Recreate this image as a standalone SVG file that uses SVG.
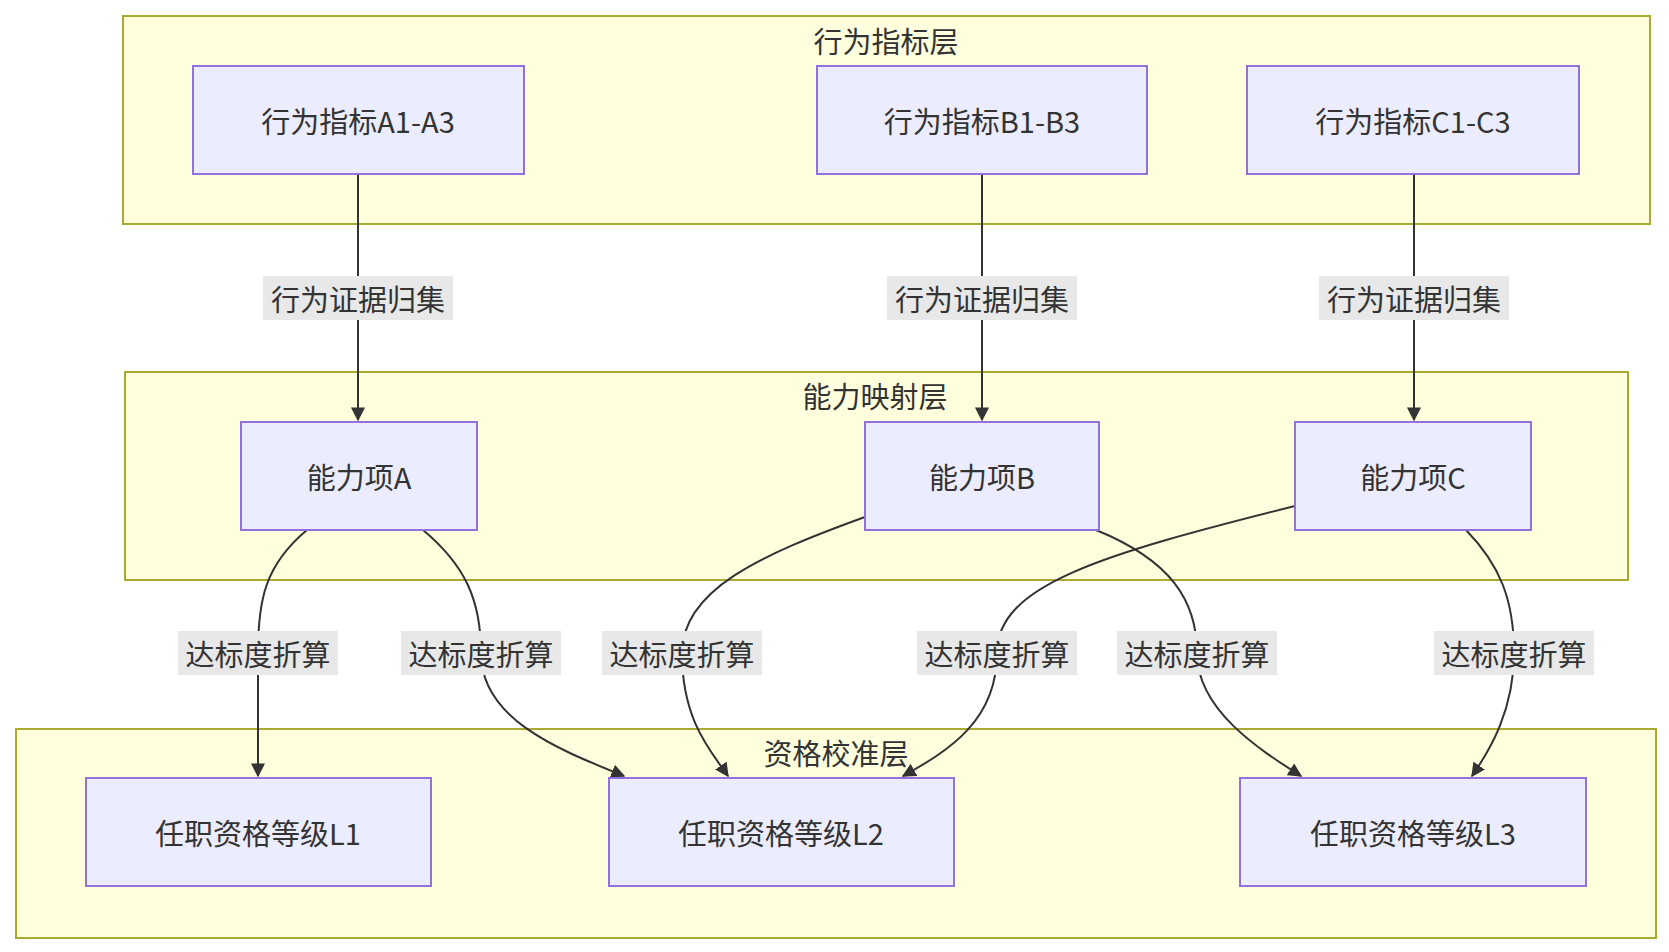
<svg xmlns="http://www.w3.org/2000/svg" width="1669" height="952" viewBox="0 0 1669 952">
<style>
.cl{fill:#ffffde;stroke:#aaaa33;stroke-width:2}
.nd{fill:#ececff;stroke:#9370db;stroke-width:2}
text{font-family:"Noto Sans CJK SC","Noto Sans",sans-serif;font-size:29px;fill:#333;text-anchor:middle;dominant-baseline:central}
.e{fill:none;stroke:#333;stroke-width:2}
.lb{fill:#e8e8e8}
</style>
<defs><marker id="ar" viewBox="0 0 10 10" refX="9" refY="5" markerWidth="7" markerHeight="7" orient="auto"><path d="M0,0L10,5L0,10z" fill="#333"/></marker></defs>
<rect width="1669" height="952" fill="#fff"/>
<g id="clusters">
<rect class="cl" x="123" y="16" width="1527" height="208"/><text x="886" y="40">行为指标层</text>
<rect class="cl" x="125" y="372" width="1503" height="208"/><text x="875" y="395">能力映射层</text>
<rect class="cl" x="16" y="729" width="1640" height="209"/><text x="836" y="752">资格校准层</text>
</g>
<g id="connectors">
<path class="e" marker-end="url(#ar)" d="M358,174 L358,420"/>
<path class="e" marker-end="url(#ar)" d="M982,174 L982,420"/>
<path class="e" marker-end="url(#ar)" d="M1414,174 L1414,420"/>
<path class="e" marker-end="url(#ar)" d="M307,530 C265,565 258,600 258,653 L258,776"/>
<path class="e" marker-end="url(#ar)" d="M423,530 C465,565 481,600 481,653 C481,720 560,750 624,776"/>
<path class="e" marker-end="url(#ar)" d="M865,517 C760,555 682,590 682,653 C682,720 710,750 728,776"/>
<path class="e" marker-end="url(#ar)" d="M1295,506 C1100,555 997,585 997,653 C997,720 950,750 903,776"/>
<path class="e" marker-end="url(#ar)" d="M1096,530 C1170,560 1197,600 1197,653 C1197,710 1260,750 1301,776"/>
<path class="e" marker-end="url(#ar)" d="M1466,530 C1500,565 1514,600 1514,653 C1514,710 1490,750 1472,776"/>
<g id="labels">
<rect class="lb" x="263" y="276" width="190" height="44"/><text x="358" y="298">行为证据归集</text>
<rect class="lb" x="887" y="276" width="190" height="44"/><text x="982" y="298">行为证据归集</text>
<rect class="lb" x="1319" y="276" width="190" height="44"/><text x="1414" y="298">行为证据归集</text>
<rect class="lb" x="178" y="631" width="160" height="44"/><text x="258" y="653">达标度折算</text>
<rect class="lb" x="401" y="631" width="160" height="44"/><text x="481" y="653">达标度折算</text>
<rect class="lb" x="602" y="631" width="160" height="44"/><text x="682" y="653">达标度折算</text>
<rect class="lb" x="917" y="631" width="160" height="44"/><text x="997" y="653">达标度折算</text>
<rect class="lb" x="1117" y="631" width="160" height="44"/><text x="1197" y="653">达标度折算</text>
<rect class="lb" x="1434" y="631" width="160" height="44"/><text x="1514" y="653">达标度折算</text>
</g>
</g>
<g id="nA13"><rect class="nd" x="193" y="66" width="331" height="108"/><text x="358" y="120">行为指标A1-A3</text></g>
<g id="nB13"><rect class="nd" x="817" y="66" width="330" height="108"/><text x="982" y="120">行为指标B1-B3</text></g>
<g id="nC13"><rect class="nd" x="1247" y="66" width="332" height="108"/><text x="1413" y="120">行为指标C1-C3</text></g>
<g id="nA"><rect class="nd" x="241" y="422" width="236" height="108"/><text x="359" y="476">能力项A</text></g>
<g id="nB"><rect class="nd" x="865" y="422" width="234" height="108"/><text x="982" y="476">能力项B</text></g>
<g id="nC"><rect class="nd" x="1295" y="422" width="236" height="108"/><text x="1413" y="476">能力项C</text></g>
<g id="L1"><rect class="nd" x="86" y="778" width="345" height="108"/><text x="258" y="832">任职资格等级L1</text></g>
<g id="L2"><rect class="nd" x="609" y="778" width="345" height="108"/><text x="781" y="832">任职资格等级L2</text></g>
<g id="L3"><rect class="nd" x="1240" y="778" width="346" height="108"/><text x="1413" y="832">任职资格等级L3</text></g>
</svg>
